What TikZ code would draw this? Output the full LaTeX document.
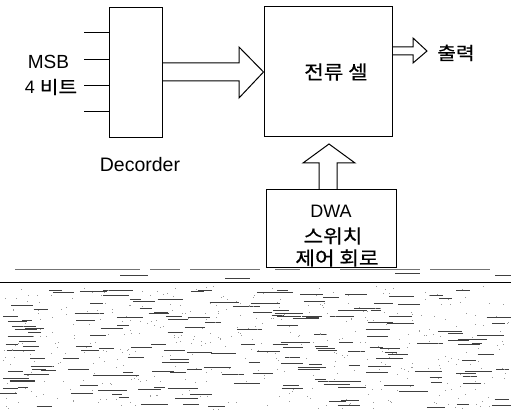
\documentclass[tikz,border=0pt]{standalone}
\usepackage{fontspec}
\setmainfont{Liberation Sans}
\newfontfamily\kr[FakeStretch=1.12,FakeBold=0.6]{Noto Sans CJK KR}
\begin{document}
\begin{tikzpicture}[x=1pt,y=-1pt,
  blk/.style={draw,line width=1pt,inner sep=0pt},
  wire/.style={line width=1pt},
  fat/.style={draw,line width=1pt,line join=miter},
  lbl/.style={inner sep=0pt,align=center},
  noise/.style={line width=1pt,black!75}]
\useasboundingbox (0,0) rectangle (511,411);
% blocks
\node[blk,minimum width=53pt,minimum height=130pt] (dec) at (135.5,73) {};
\node[blk,minimum width=128pt,minimum height=130pt] (cell) at (328,72) {};
\node[blk,minimum width=130pt,minimum height=78pt,align=center] (dwa) at (331,229) {};
% input wires
\foreach \yy/\nm in {33/a,60/b,86/c,112/d}{
  \coordinate (in\nm) at (84,\yy);
  \draw[wire] (in\nm) -- (in\nm -| dec.west);
}
% labels
\node[lbl,font=\fontsize{19}{21}\selectfont] (msb) at (48.5,62) {MSB};
\node[lbl,font=\fontsize{18}{20}\selectfont] (bits) at (51,87) {4 {\kr 비트}};
\node[lbl,font=\fontsize{19.5}{22}\selectfont] (declbl) at (140,165) {Decorder};
\node[lbl,font=\kr\fontsize{19}{21}\selectfont] (celllbl) at (336,72) {전류 셀};
\node[lbl,font=\kr\fontsize{18}{20}\selectfont] (outlbl) at (456,53) {출력};
\node[lbl,font=\fontsize{18}{20}\selectfont] (dwa1) at (331,211) {DWA};
\node[lbl,font=\kr\fontsize{19}{21}\selectfont] (dwa2) at (333,236) {스위치};
\node[lbl,font=\kr\fontsize{19}{21}\selectfont] (dwa3) at (337,258) {제어 회로};
% fat arrows
\draw[fat] (dec.east |- 0,63) -- (239,63) -- (239,47) -- (cell.west |- 0,72) -- (239,98) -- (239,81) -- (dec.east |- 0,81);
\draw[fat] (cell.east |- 0,47) -- (413,47) -- (413,38) -- (427,51) -- (413,63) -- (413,55) -- (cell.east |- 0,55);
\draw[fat] (319,0 |- dwa.north) -- (319,163) -- (303,163) -- (329,144) -- (355,163) -- (337,163) -- (337,0 |- dwa.north);
% scan noise
\draw[noise,black!55] (15,270) -- (140,270) (150,270) -- (180,270) (190,270) -- (260,270) (275,270) -- (300,270) (340,270) -- (420,270) (430,270) -- (490,270);
\draw[noise,black] (0,283) -- (511,283);
\draw[noise] (120,276) -- (148,276) (225,279) -- (250,279) (395,274) -- (420,274) (495,276) -- (511,276);
\pgfmathsetseed{11}
\foreach \i in {1,...,190}{
  \pgfmathsetmacro\xx{rnd*500}
  \pgfmathsetmacro\yy{290+rnd*118}
  \pgfmathsetmacro\ll{10+rnd*20}
  \draw[noise] (\xx,\yy) -- ++(\ll,0);
}
\foreach \i in {1,...,450}{
  \pgfmathsetmacro\xx{rnd*509}
  \pgfmathsetmacro\yy{286+rnd*123}
  \fill[black!40] (\xx,\yy) rectangle ++(1,1);
}
\end{tikzpicture}
\end{document}
